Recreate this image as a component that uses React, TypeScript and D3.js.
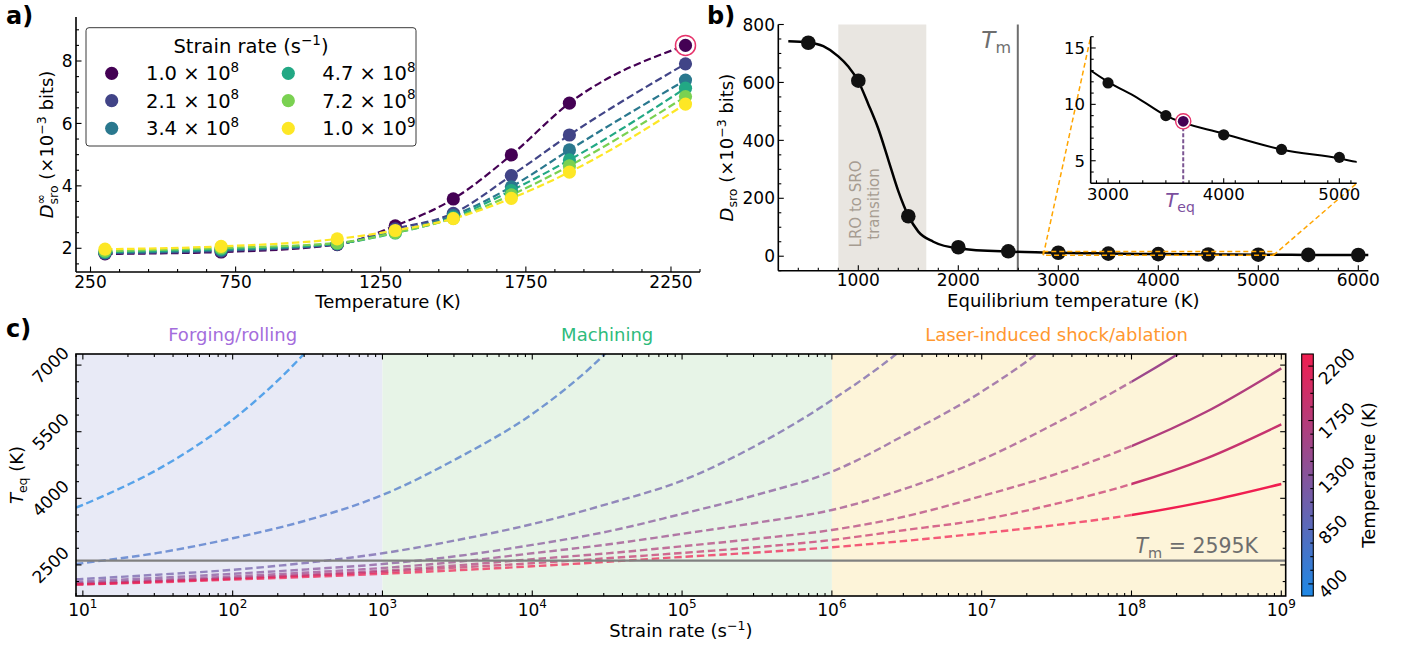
import React from "react";
import * as d3 from "d3";

const FONT = "'DejaVu Sans', sans-serif";

// ---------------- Panel a data ----------------
const tempsA = [300, 700, 1100, 1300, 1500, 1700, 1900, 2300];
const rateMantissa = ["1.0", "2.1", "3.4", "4.7", "7.2", "1.0"];
const rateExponent = ["8", "8", "8", "8", "8", "9"];
const dRate1 = [1.82, 1.88, 2.12, 2.72, 3.58, 4.99, 6.65, 8.5];
const dRate2 = [1.84, 1.91, 2.13, 2.62, 3.12, 4.33, 5.63, 7.91];
const dRate3 = [1.86, 1.94, 2.14, 2.54, 3.05, 3.97, 5.15, 7.39];
const dRate4 = [1.88, 1.97, 2.15, 2.49, 2.99, 3.85, 4.83, 7.13];
const dRate5 = [1.91, 2.01, 2.17, 2.5, 2.96, 3.71, 4.64, 6.86];
const dRate6 = [1.97, 2.06, 2.3, 2.57, 2.95, 3.6, 4.44, 6.62];
const viridisColors = ["#440154", "#414487", "#2a788e", "#22a884", "#7ad151", "#fde725"];
const ticksAx = [250, 750, 1250, 1750, 2250];
const ticksAy = [2, 4, 6, 8];
const highlightT = 2300;
const highlightD = 8.5;

// ---------------- Panel b data ----------------
const eqTemps = [500, 1000, 1500, 2000, 2500, 3000, 3500, 4000, 4500, 5000, 5500, 6000];
const eqValues = [737, 606, 138, 31, 17, 11.9, 9.0, 7.3, 6.0, 5.3, 4.6, 4.2];
const fitTemps = [300, 500, 650, 800, 900, 1000, 1100, 1200, 1300, 1400, 1500, 1600, 1750, 2000, 2500, 2850, 3000, 3250, 3500, 4000, 4500, 5000, 5150, 5500, 6000, 6100];
const fitValues = [742, 738, 725, 690, 655, 604, 525, 440, 333, 225, 140, 85, 50, 27, 16, 13.0, 12.0, 10.6, 9.0, 7.4, 6.0, 5.2, 4.9, 4.5, 4.0, 3.9];
const ticksBx = [1000, 2000, 3000, 4000, 5000, 6000];
const ticksBy = [0, 200, 400, 600, 800];
const insetTicksX = [3000, 4000, 5000];
const insetTicksY = [5, 10, 15];
const meltT = 2595;
const lroSpan = [800, 1680];
const teqT = 3650;
const teqD = 8.5;
const insetXDomain = [2850, 5150];
const insetYDomain = [3, 16];

// ---------------- Panel c data ----------------
const strainRates = [9, 10, 31.6, 100, 316, 1e3, 3160, 1e4, 31600, 1e5, 316000, 1e6, 3.16e6, 1e7, 3.16e7, 1e8, 3.16e8, 1e9];
const curveTemps = [300, 700, 1100, 1300, 1500, 1700, 1900, 2300];
const teq300 = [3790, 3850, 4650, 5770, 7340, 9540, null, null, null, null, null, null, null, null, null, null, null, null];
const teq700 = [2520, 2540, 2770, 3100, 3510, 4075, 4900, 5900, 7300, 9300, null, null, null, null, null, null, null, null];
const teq1100 = [2180, 2185, 2280, 2390, 2550, 2762, 3060, 3420, 3870, 4400, 5200, 6212, 7450, 9200, null, null, null, null];
const teq1300 = [2125, 2130, 2210, 2300, 2400, 2520, 2700, 2950, 3250, 3650, 4080, 4600, 5450, 6400, 7600, 9200, null, null];
const teq1500 = [2085, 2090, 2160, 2240, 2330, 2430, 2570, 2762, 2960, 3200, 3450, 3737, 4230, 4870, 5700, 6625, 7650, 8800];
const teq1700 = [2070, 2075, 2135, 2200, 2280, 2370, 2490, 2628, 2760, 2920, 3090, 3287, 3600, 4050, 4550, 5177, 5950, 6926];
const teq1900 = [2062, 2065, 2125, 2190, 2260, 2340, 2440, 2537, 2650, 2770, 2900, 3062, 3290, 3520, 3880, 4322, 4900, 5666];
const teq2300 = [2058, 2060, 2110, 2170, 2230, 2300, 2380, 2470, 2570, 2680, 2780, 2898, 3045, 3213, 3400, 3625, 3930, 4322];
const ticksCy = [2500, 4000, 5500, 7000];
const ticksCxExp = [1, 2, 3, 4, 5, 6, 7, 8, 9];
const cbarTicks = [400, 850, 1300, 1750, 2200];
const cbarDomain = [300, 2300];
const regionBounds = [1e3, 1e6];
const regionNames = ["Forging/rolling", "Machining", "Laser-induced shock/ablation"];
const regionLabelRates = [100, 31623, 3.1623e7];
const simRateStart = 1e8;

// ---------------- styles ----------------
const cmapLow = "#1e88e5";
const cmapHigh = "#f01e50";
const ringColor = "#e6336b";
const orange = "#ffa500";

function tickLinesX(scale: (v: number) => number, vals: number[], y: number, dir: number, len: number, key: string) {
  return vals.map((v, i) => (
    <line key={key + i} x1={scale(v)} x2={scale(v)} y1={y} y2={y + dir * len} stroke="#000" strokeWidth={1.1} />
  ));
}
function tickLinesY(scale: (v: number) => number, vals: number[], x: number, dir: number, len: number, key: string) {
  return vals.map((v, i) => (
    <line key={key + i} y1={scale(v)} y2={scale(v)} x1={x} x2={x + dir * len} stroke="#000" strokeWidth={1.1} />
  ));
}

function PanelA() {
  const L = 76, R = 700, T = 17, B = 272;
  const x = d3.scaleLinear().domain([200, 2350]).range([L, R]);
  const y = d3.scaleLinear().domain([1.24, 9.41]).range([B, T]);
  const series = [dRate1, dRate2, dRate3, dRate4, dRate5, dRate6];
  const line = d3
    .line<number>()
    .x((_, i) => x(tempsA[i]))
    .y((d) => y(d))
    .curve(d3.curveMonotoneX);
  const minorX = d3.range(250, 2351, 100).filter((v) => (v - 250) % 500 !== 0);
  const minorY = d3.range(1.5, 9.41, 0.5).filter((v) => v % 2 !== 0);
  const legRows = [73.3, 100.7, 128.3];
  const legMarkX = [111.7, 288.3];
  const legTextX = [146, 322.3];
  return (
    <g>
      {series.map((s, i) => (
        <path key={"la" + i} d={line(s) || ""} fill="none" stroke={viridisColors[i]} strokeWidth={2.2} strokeDasharray="7.5,3.5" />
      ))}
      <circle cx={x(highlightT)} cy={y(highlightD)} r={10} fill="#fff" stroke={ringColor} strokeWidth={1.5} />
      {series.map((s, i) =>
        s.map((d, j) => <circle key={"pa" + i + "_" + j} cx={x(tempsA[j])} cy={y(d)} r={6.6} fill={viridisColors[i]} />)
      )}
      <line x1={L} x2={L} y1={T} y2={B} stroke="#000" strokeWidth={1.6} />
      <line x1={L} x2={R} y1={B} y2={B} stroke="#000" strokeWidth={1.6} />
      {tickLinesX(x, ticksAx, B, -1, 5.5, "axM")}
      {tickLinesX(x, minorX, B, -1, 3, "axm")}
      {tickLinesY(y, ticksAy, L, 1, 5.5, "ayM")}
      {tickLinesY(y, minorY, L, 1, 3, "aym")}
      {ticksAx.map((v) => (
        <text key={"atx" + v} x={x(v)} y={288.3} textAnchor="middle" fontSize={17}>{v}</text>
      ))}
      {ticksAy.map((v) => (
        <text key={"aty" + v} x={72.5} y={y(v) + 6.2} textAnchor="end" fontSize={17}>{v}</text>
      ))}
      <text x={(L + R) / 2} y={307.5} textAnchor="middle" fontSize={18}>Temperature (K)</text>
      <text transform={`translate(53,${(T + B) / 2}) rotate(-90)`} textAnchor="middle" fontSize={18}>
        <tspan fontStyle="italic">D</tspan>
        <tspan fontSize={12.5} dy={-8}>∞</tspan>
        <tspan fontSize={12.5} dx={-10.4} dy={13}>sro</tspan>
        <tspan dy={-5}> (×10</tspan>
        <tspan fontSize={12.5} dy={-7}>−3</tspan>
        <tspan dy={7}> bits)</tspan>
      </text>
      {/* legend */}
      <rect x={86} y={27.7} width={330} height={118.3} rx={3} fill="#fff" stroke="#3a3a3a" strokeWidth={1} />
      <text x={251} y={52.5} textAnchor="middle" fontSize={19.5}>
        Strain rate (s<tspan fontSize={13.5} dy={-8}>−1</tspan><tspan dy={8}>)</tspan>
      </text>
      {rateMantissa.map((m, i) => {
        const col = i < 3 ? 0 : 1;
        const cy = legRows[i % 3];
        return (
          <g key={"leg" + i}>
            <circle cx={legMarkX[col]} cy={cy} r={6.6} fill={viridisColors[i]} />
            <text x={legTextX[col]} y={cy + 7.1} fontSize={19.5}>
              {m} × 10<tspan fontSize={13.5} dy={-8.5}>{rateExponent[i]}</tspan>
            </text>
          </g>
        );
      })}
      <text x={6} y={24} fontSize={24} fontWeight="bold">a)</text>
    </g>
  );
}

function PanelB() {
  const L = 778.3, R = 1368.3, T = 24.5, B = 270.7;
  const x = d3.scaleLinear().domain([200, 6100]).range([L, R]);
  const y = d3.scaleLinear().domain([-50, 800]).range([B, T]);
  const line = d3
    .line<number>()
    .x((_, i) => x(fitTemps[i]))
    .y((d) => y(d))
    .curve(d3.curveMonotoneX);
  const minorX = d3.range(400, 6100, 200).filter((v) => v % 1000 !== 0);
  const minorY = d3.range(-50, 801, 50).filter((v) => v % 200 !== 0);

  const iL = 1090.7, iR = 1356.7, iT = 36.7, iB = 183.3;
  const xi = d3.scaleLinear().domain(insetXDomain).range([iL, iR]);
  const yi = d3.scaleLinear().domain(insetYDomain).range([iB, iT]);
  const lineI = d3
    .line<number>()
    .x((_, i) => xi(fitTemps[i]))
    .y((d) => yi(d))
    .curve(d3.curveMonotoneX);
  const iMinorX = d3.range(2900, 5150, 200).filter((v) => v % 1000 !== 0 && v > insetXDomain[0]);
  const iMinorY = d3.range(4, 16.1, 1).filter((v) => v % 5 !== 0);
  const inPts = eqTemps.map((t, i) => [t, eqValues[i]]).filter((p) => p[0] >= insetXDomain[0] && p[0] <= insetXDomain[1]);

  return (
    <g>
      <defs>
        <clipPath id="insetClip">
          <rect x={iL} y={iT} width={iR - iL} height={iB - iT} />
        </clipPath>
      </defs>
      <rect x={x(lroSpan[0])} y={T} width={x(lroSpan[1]) - x(lroSpan[0])} height={B - T} fill="#e9e6e1" />
      <text transform={`translate(860.5,204) rotate(-90)`} textAnchor="middle" fontSize={15} fill="#a69c91">LRO to SRO</text>
      <text transform={`translate(878.5,204) rotate(-90)`} textAnchor="middle" fontSize={15} fill="#a69c91">transition</text>
      <line x1={x(meltT)} x2={x(meltT)} y1={T} y2={B} stroke="#6e6e6e" strokeWidth={2} />
      <text x={1011} y={48} textAnchor="end" fontSize={23} fill="#6e6e6e">
        <tspan fontStyle="italic">T</tspan>
        <tspan fontSize={16} dy={5}>m</tspan>
      </text>
      <path d={line(fitValues) || ""} fill="none" stroke="#000" strokeWidth={2.5} />
      {eqTemps.map((t, i) => (
        <circle key={"pb" + i} cx={x(t)} cy={y(eqValues[i])} r={7.3} fill="#111" />
      ))}
      {/* zoom indicator */}
      <rect x={x(insetXDomain[0])} y={y(insetYDomain[1])} width={x(insetXDomain[1]) - x(insetXDomain[0])} height={y(insetYDomain[0]) - y(insetYDomain[1])} fill="none" stroke={orange} strokeWidth={1.5} strokeDasharray="5,3" />
      <line x1={x(insetXDomain[0])} y1={y(insetYDomain[0])} x2={iL} y2={iT} stroke={orange} strokeWidth={1.5} strokeDasharray="5,3" />
      <line x1={x(insetXDomain[1])} y1={y(insetYDomain[0])} x2={iR} y2={iB} stroke={orange} strokeWidth={1.5} strokeDasharray="5,3" />
      {/* axes */}
      <line x1={L} x2={L} y1={T} y2={B} stroke="#000" strokeWidth={1.6} />
      <line x1={L} x2={R} y1={B} y2={B} stroke="#000" strokeWidth={1.6} />
      {tickLinesX(x, ticksBx, B, -1, 5.5, "bxM")}
      {tickLinesX(x, minorX, B, -1, 3, "bxm")}
      {tickLinesY(y, ticksBy, L, 1, 5.5, "byM")}
      {tickLinesY(y, minorY, L, 1, 3, "bym")}
      {ticksBx.map((v) => (
        <text key={"btx" + v} x={x(v)} y={286.3} textAnchor="middle" fontSize={17}>{v}</text>
      ))}
      {ticksBy.map((v) => (
        <text key={"bty" + v} x={775} y={y(v) + 6.2} textAnchor="end" fontSize={17}>{v}</text>
      ))}
      <text x={(L + R) / 2} y={307} textAnchor="middle" fontSize={18}>Equilibrium temperature (K)</text>
      <text transform={`translate(733,${(T + B) / 2}) rotate(-90)`} textAnchor="middle" fontSize={18}>
        <tspan fontStyle="italic">D</tspan>
        <tspan fontSize={12.5} dy={4}>sro</tspan>
        <tspan dy={-4}> (×10</tspan>
        <tspan fontSize={12.5} dy={-7}>−3</tspan>
        <tspan dy={7}> bits)</tspan>
      </text>
      {/* inset */}
      <rect x={iL} y={iT} width={iR - iL} height={iB - iT} fill="#fff" />
      <g clipPath="url(#insetClip)">
        <path d={lineI(fitValues) || ""} fill="none" stroke="#000" strokeWidth={2} />
      </g>
      {inPts.map((p, i) => (
        <circle key={"pi" + i} cx={xi(p[0])} cy={yi(p[1])} r={5.6} fill="#111" />
      ))}
      <line x1={xi(teqT)} x2={xi(teqT)} y1={yi(teqD)} y2={iB} stroke="#7b5592" strokeWidth={2} strokeDasharray="4,2" />
      <circle cx={xi(teqT)} cy={yi(teqD)} r={7.6} fill="#fff" stroke={ringColor} strokeWidth={1.4} />
      <circle cx={xi(teqT)} cy={yi(teqD)} r={5.4} fill="#440154" />
      <line x1={iL} x2={iL} y1={iT} y2={iB} stroke="#000" strokeWidth={1.6} />
      <line x1={iL} x2={iR} y1={iB} y2={iB} stroke="#000" strokeWidth={1.6} />
      {tickLinesX(xi, insetTicksX, iB, -1, 5, "ixM")}
      {tickLinesX(xi, iMinorX, iB, -1, 3, "ixm")}
      {tickLinesY(yi, insetTicksY, iL, 1, 5, "iyM")}
      {tickLinesY(yi, iMinorY, iL, 1, 3, "iym")}
      {insetTicksX.map((v) => (
        <text key={"itx" + v} x={xi(v)} y={200} textAnchor="middle" fontSize={16.5}>{v}</text>
      ))}
      {insetTicksY.map((v) => (
        <text key={"ity" + v} x={1085} y={yi(v) + 6} textAnchor="end" fontSize={16.5}>{v}</text>
      ))}
      <text x={1180} y={206.5} textAnchor="middle" fontSize={20} fill="#7b4f9e">
        <tspan fontStyle="italic">T</tspan>
        <tspan fontSize={14} dy={5}>eq</tspan>
      </text>
      <text x={707} y={24} fontSize={24} fontWeight="bold">b)</text>
    </g>
  );
}

function PanelC() {
  const L = 76, R = 1285.7, T = 354, B = 596;
  const x = d3.scaleLog().domain([9, 1.07e9]).range([L, R]);
  const y = d3.scaleLinear().domain([1800, 7250]).range([B, T]);
  const cmap = d3.interpolateRgb(cmapLow, cmapHigh);
  const cb = d3.scaleLinear().domain(cbarDomain).range([596, 354]);
  const curves = [teq300, teq700, teq1100, teq1300, teq1500, teq1700, teq1900, teq2300];
  const line = d3
    .line<[number, number | null]>()
    .defined((d) => d[1] !== null)
    .x((d) => x(d[0]))
    .y((d) => y(d[1] as number))
    .curve(d3.curveCatmullRom.alpha(0.5));
  const majorX = ticksCxExp.map((e) => Math.pow(10, e));
  const minorX: number[] = [];
  for (let e = 0; e <= 9; e++) {
    for (let m = 2; m <= 9; m++) {
      const v = m * Math.pow(10, e);
      if (v >= 9 && v <= 1.07e9) minorX.push(v);
    }
  }
  const minorY = d3.range(2125, 7250, 375).filter((v) => !ticksCy.includes(v));
  const xSplit = x(simRateStart);
  const cbMinor = d3.range(512.5, 2300, 112.5).filter((v) => !cbarTicks.includes(v));
  const regionColors = ["#e8eaf6", "#e7f4e7", "#fdf4d9"];
  const regionText = ["#a46ddc", "#2fbb7c", "#ff982f"];
  const regEdges = [L, x(regionBounds[0]), x(regionBounds[1]), R];
  return (
    <g>
      <defs>
        <clipPath id="clipDash">
          <rect x={L} y={T} width={xSplit - L} height={B - T} />
        </clipPath>
        <clipPath id="clipSolid">
          <rect x={xSplit} y={T} width={R - xSplit} height={B - T} />
        </clipPath>
        <linearGradient id="cbarGrad" x1="0" y1="1" x2="0" y2="0">
          <stop offset="0" stopColor={cmapLow} />
          <stop offset="1" stopColor={cmapHigh} />
        </linearGradient>
      </defs>
      {regionColors.map((c, i) => (
        <rect key={"reg" + i} x={regEdges[i]} y={T} width={regEdges[i + 1] - regEdges[i]} height={B - T} fill={c} />
      ))}
      {regionNames.map((n, i) => (
        <text key={"rn" + i} x={x(regionLabelRates[i])} y={340.7} textAnchor="middle" fontSize={18} fill={regionText[i]}>{n}</text>
      ))}
      {curves.map((c, i) => {
        const pts = strainRates.map((r, j) => [r, c[j]] as [number, number | null]);
        const d = line(pts) || "";
        const col = cmap((curveTemps[i] - cbarDomain[0]) / (cbarDomain[1] - cbarDomain[0]));
        return (
          <g key={"cv" + i}>
            <path d={d} clipPath="url(#clipDash)" fill="none" stroke={col} strokeOpacity={0.72} strokeWidth={2.4} strokeDasharray="7.5,3.8" />
            <path d={d} clipPath="url(#clipSolid)" fill="none" stroke={col} strokeWidth={2.4} />
          </g>
        );
      })}
      <line x1={L} x2={R} y1={y(meltT)} y2={y(meltT)} stroke="#808080" strokeWidth={2.2} />
      <text x={1258} y={552.5} textAnchor="end" fontSize={20.5} fill="#6e6e6e">
        <tspan fontStyle="italic">T</tspan>
        <tspan fontSize={14.5} dy={5}>m</tspan>
        <tspan dy={-5}> = {meltT}K</tspan>
      </text>
      <rect x={L} y={T} width={R - L} height={B - T} fill="none" stroke="#000" strokeWidth={1.6} />
      {tickLinesX(x, majorX, B, -1, 5.5, "cxM")}
      {tickLinesX(x, minorX, B, -1, 3, "cxm")}
      {tickLinesX(x, majorX, T, 1, 5.5, "cxMt")}
      {tickLinesX(x, minorX, T, 1, 3, "cxmt")}
      {tickLinesY(y, ticksCy, L, 1, 5.5, "cyM")}
      {tickLinesY(y, minorY, L, 1, 3, "cym")}
      {tickLinesY(y, ticksCy, R, -1, 5.5, "cyMr")}
      {tickLinesY(y, minorY, R, -1, 3, "cymr")}
      {ticksCxExp.map((e) => (
        <text key={"ctx" + e} x={x(Math.pow(10, e))} y={616} textAnchor="middle" fontSize={17}>
          10<tspan fontSize={12} dy={-8}>{e}</tspan>
        </text>
      ))}
      {ticksCy.map((v) => (
        <text key={"cty" + v} transform={`translate(50.5,${y(v)}) rotate(-45)`} textAnchor="middle" dominantBaseline="central" fontSize={17}>{v}</text>
      ))}
      <text x={(L + R) / 2} y={637} textAnchor="middle" fontSize={18}>
        Strain rate (s<tspan fontSize={12.5} dy={-7}>−1</tspan><tspan dy={7}>)</tspan>
      </text>
      <text transform={`translate(22.5,${(T + B) / 2}) rotate(-90)`} textAnchor="middle" fontSize={18}>
        <tspan fontStyle="italic">T</tspan>
        <tspan fontSize={12.5} dy={4}>eq</tspan>
        <tspan dy={-4}> (K)</tspan>
      </text>
      {/* colorbar */}
      <rect x={1301.7} y={354} width={11.6} height={242} fill="url(#cbarGrad)" stroke="#000" strokeWidth={1.1} />
      {tickLinesY(cb, cbarTicks, 1313.3, -1, 5, "cbM")}
      {tickLinesY(cb, cbMinor, 1313.3, -1, 3, "cbm")}
      {cbarTicks.map((v) => {
        const n = String(v).length;
        const bw = (n * 0.636 * 17 + 12.4) * 0.7071;
        return (
          <text key={"cbt" + v} transform={`translate(${1317 + bw / 2},${cb(v)}) rotate(-45)`} textAnchor="middle" dominantBaseline="central" fontSize={17}>{v}</text>
        );
      })}
      <text transform={`translate(1375,475) rotate(-90)`} textAnchor="middle" fontSize={18}>Temperature (K)</text>
      <text x={6} y={337} fontSize={24} fontWeight="bold">c)</text>
    </g>
  );
}

export default function App() {
  return (
    <svg
      width={1405}
      height={649}
      viewBox="0 0 1405 649"
      style={{ position: "absolute", left: 0, top: 0, fontFamily: FONT, background: "#fff" }}
    >
      <rect x={0} y={0} width={1405} height={649} fill="#fff" />
      <PanelA />
      <PanelB />
      <PanelC />
    </svg>
  );
}
